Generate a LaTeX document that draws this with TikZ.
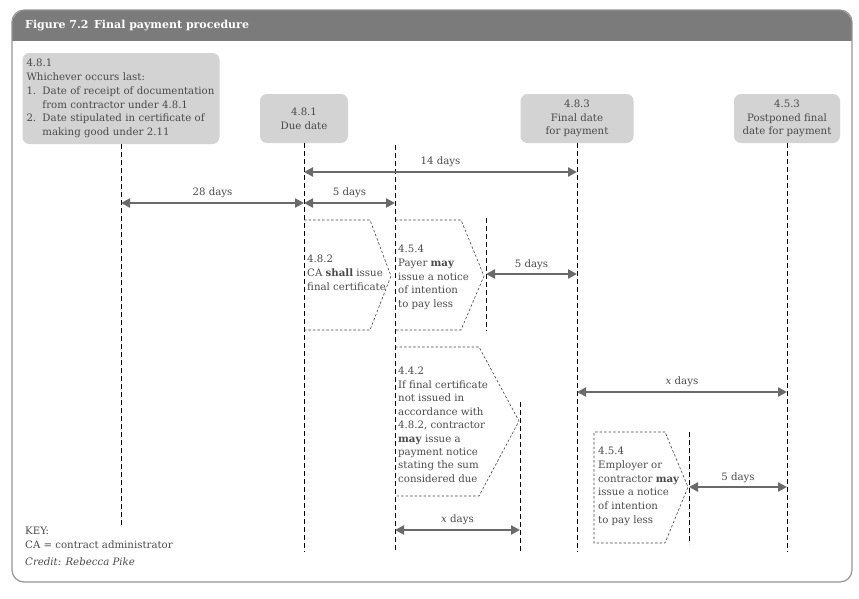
\documentclass[tikz,border=0pt]{standalone}
\usepackage{fontspec}
\setmainfont{DejaVu Serif}
\usetikzlibrary{arrows.meta}
\definecolor{txt}{HTML}{4A4A4A}
\definecolor{hdr}{HTML}{7B7B7B}
\definecolor{boxfill}{HTML}{D3D3D3}
\definecolor{arr}{HTML}{6A6A6A}
\definecolor{framec}{HTML}{959595}
\begin{document}
\begin{tikzpicture}[x=1pt,y=-1pt,
  font=\fontsize{10.2}{13.7}\selectfont, text=txt,
  datebox/.style={fill=boxfill, rounded corners=7pt, inner sep=0pt, align=center},
  tline/.style={black, line width=0.8pt, dash pattern=on 5pt off 3pt},
  pent/.style={black!75, line width=0.6pt, dash pattern=on 2.5pt off 2pt},
  dim/.style={arr, line width=2.4pt, {Triangle[length=9pt,width=9pt]}-{Triangle[length=9pt,width=9pt]}},
  lbl/.style={text=txt, inner sep=0pt},
  para/.style={inner sep=0pt, anchor=north west, align=left}]
\useasboundingbox (0,0) rectangle (859,598);
% frame and header
\begin{scope}
  \clip (0,0) rectangle (859,40);
  \fill[hdr, rounded corners=14pt] (12,10) rectangle (852,90);
\end{scope}
\draw[framec, line width=1.2pt, rounded corners=12pt] (12,10) rectangle (852,582);
\node[anchor=west, text=white, inner sep=0pt, font=\fontsize{11}{13}\selectfont\bfseries] (title) at (25,26) {Figure 7.2\enspace Final payment procedure};
% date boxes
\node[datebox, minimum width=197pt, minimum height=91pt, text width=189pt, align=left] (b1) at (121,98.5)
 {4.8.1\\Whichever occurs last:\\\makebox[16pt][l]{1.}Date of receipt of documentation\\\hspace*{16pt}from contractor under 4.8.1\\\makebox[16pt][l]{2.}Date stipulated in certificate of\\\hspace*{16pt}making good under 2.11};
\node[datebox, minimum width=88pt, minimum height=49pt] (b2) at (304,118.5) {4.8.1\\Due date};
\node[datebox, minimum width=113pt, minimum height=49pt] (b3) at (577,118.5) {4.8.3\\Final date\\for payment};
\node[datebox, minimum width=106pt, minimum height=49pt] (b4) at (787,118.5) {4.5.3\\Postponed final\\date for payment};
% timeline ends
\coordinate (e1) at (121,525);
\coordinate (e2) at (304,552);
\coordinate (s3) at (395,145);
\coordinate (e3) at (395,552);
\coordinate (e4) at (577,552);
\coordinate (e5) at (787,552);
\draw[tline] (b1.south) -- (e1);
\draw[tline] (b2.south) -- (e2);
\draw[tline] (s3) -- (e3);
\draw[tline] (b3.south) -- (e4);
\draw[tline] (b4.south) -- (e5);
% short lines
\coordinate (p1) at (486,218); \coordinate (p2) at (486,331);
\coordinate (q1) at (520,402); \coordinate (q2) at (520,551);
\coordinate (r1) at (689,432); \coordinate (r2) at (689,544);
\draw[tline] (p1) -- (p2);
\draw[tline] (q1) -- (q2);
\draw[tline] (r1) -- (r2);
% pentagons
\draw[pent] (304,220) -- (370,220) -- (391,276) -- (370,330) -- (304,330);
\draw[pent] (395,220) -- (461,220) -- (484,276) -- (461,330) -- (395,330);
\draw[pent] (395,347) -- (479,347) -- (519,421) -- (479,496) -- (395,496);
\draw[pent] (665,432) -- (594,432) -- (594,543) -- (665,543) -- (688,487) -- cycle;
\node[para] (tA) at (307,255) {4.8.2\\CA \textbf{shall} issue\\final certificate};
\node[para] (tB) at (398,245) {4.5.4\\Payer \textbf{may}\\issue a notice\\of intention\\to pay less};
\node[para, font=\fontsize{10.2}{13.45}\selectfont] (tC) at (398,367) {4.4.2\\If final certificate\\not issued in\\accordance with\\4.8.2, contractor\\\textbf{may} issue a\\payment notice\\stating the sum\\considered due};
\node[para] (tD) at (598,447) {4.5.4\\Employer or\\contractor \textbf{may}\\issue a notice\\of intention\\to pay less};
% dimension arrows
\coordinate (a14l) at (304,172); \coordinate (a14r) at (577,172);
\coordinate (a28l) at (121,203); \coordinate (a28r) at (304,203);
\coordinate (a5l) at (304,203); \coordinate (a5r) at (395,203);
\coordinate (b5l) at (486,274); \coordinate (b5r) at (577,274);
\coordinate (xl) at (577,392); \coordinate (xr) at (787,392);
\coordinate (c5l) at (689,487); \coordinate (c5r) at (787,487);
\coordinate (yl) at (395,530); \coordinate (yr) at (520,530);
\draw[dim] (a14l) -- node[lbl, above=4pt] (l14) {14 days} (a14r);
\draw[dim] (a28l) -- node[lbl, above=4pt] (l28) {28 days} (a28r);
\draw[dim] (a5l) -- node[lbl, above=4pt] (l5a) {5 days} (a5r);
\draw[dim] (b5l) -- node[lbl, above=3pt] (l5b) {5 days} (b5r);
\draw[dim] (xl) -- node[lbl, above=4pt] (lx1) {\textit{x} days} (xr);
\draw[dim] (c5l) -- node[lbl, above=3pt] (l5c) {5 days} (c5r);
\draw[dim] (yl) -- node[lbl, above=4pt] (lx2) {\textit{x} days} (yr);
% key
\node[para] (key) at (25,527) {KEY:\\CA = contract administrator\\[3pt]\textit{Credit: Rebecca Pike}};
\end{tikzpicture}
\end{document}
